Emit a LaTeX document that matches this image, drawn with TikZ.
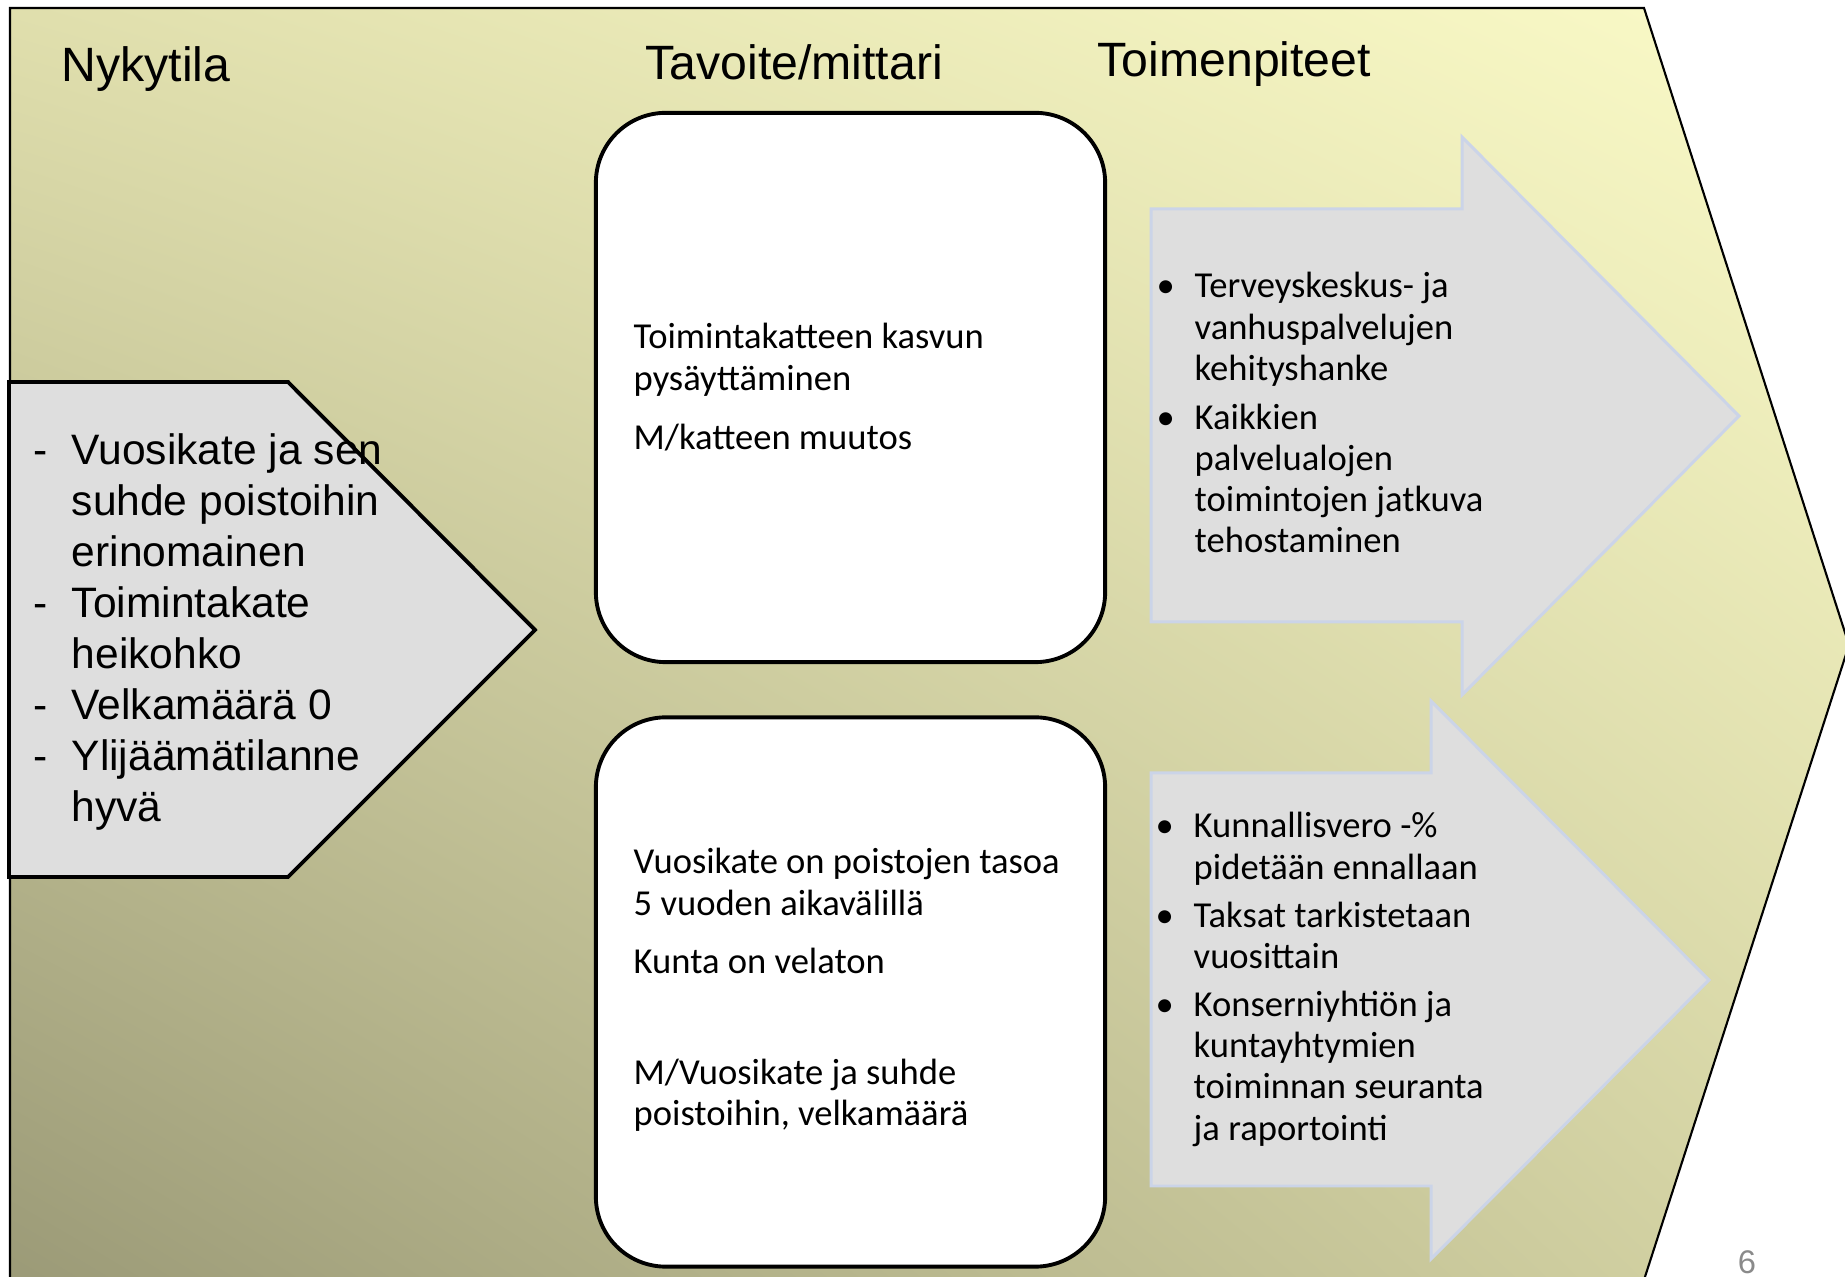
\documentclass[tikz,border=0pt]{standalone}
\usepackage{fontspec}
\setmainfont{Liberation Sans}
\newfontfamily\calibri{Carlito}
\usepackage{tikz}
\usetikzlibrary{positioning, calc, shadings}
\usepackage{color}

\definecolor{bgUL}{HTML}{E0DFAD}
\definecolor{bgUR}{HTML}{FBFBC8}
\definecolor{bgLL}{HTML}{9B9A77}
\definecolor{bgLR}{HTML}{D6D5A5}
\definecolor{arrowgray}{HTML}{DEDEDE}
\definecolor{arrowedge}{HTML}{CBD4E8}
\definecolor{pagegray}{HTML}{8A8A8A}

\tikzset{
  heading/.style={anchor=base west, inner sep=0pt, font=\fontsize{13.7}{16}\selectfont},
  statetext/.style={anchor=base west, inner sep=0pt, font=\fontsize{12.1}{14.5}\selectfont},
  bodytext/.style={anchor=base west, inner sep=0pt, font=\calibri\fontsize{10.4}{11.7}\selectfont},
  goalbox/.style={draw=black, line width=1.1pt, fill=white, rounded corners=0.7cm,
    minimum width=5.09cm, minimum height=5.49cm},
  statearrow/.style={draw=black, line width=1.1pt, fill=arrowgray},
  stepsarrow/.style={draw=arrowedge, line width=0.85pt, fill=arrowgray}
}

\begin{document}
\begin{tikzpicture}[x=0.01cm, y=-0.01cm]
    \useasboundingbox (0,0) rectangle (1845,1277);
    \clip (0,0) rectangle (1845,1277);

    % background chevron
    \shade[upper left=bgUL, upper right=bgUR, lower left=bgLL, lower right=bgLR]
      (10,8) -- (1644,8) -- (1849,645) -- (1643,1283) -- (10,1283) -- cycle;
    \draw[line width=0.6pt] (10,1283) -- (10,8) -- (1644,8) -- (1849,645) -- (1643,1283);

    \node [heading] (nyky) at (61,82) {Nykytila};
    \node [heading] (tavoite) at (645,80) {Tavoite/mittari};
    \node [heading] (toimet) at (1097,77) {Toimenpiteet};

    % nykytila
    \draw [statearrow] (9,382) -- (288,382) -- (535,630) -- (288,877) -- (9,877) -- cycle;
    \node [statetext] (tila) at (33,465) {\begin{tabular}[t]{@{}p{0.38cm}@{}l@{}}
      - & Vuosikate ja sen\\
        & suhde poistoihin\\
        & erinomainen\\
      - & Toimintakate\\
        & heikohko\\
      - & Velkamäärä 0\\
      - & Ylijäämätilanne\\
        & hyvä
    \end{tabular}};

    % tavoitteet
    \node [goalbox] (goalTop) at (850.5,387.5) {};
    \node [goalbox] (goalBottom) at (850.5,992) {};
    \node [bodytext] (mittari1) at (633,349) {\begin{tabular}[t]{@{}l@{}}
      Toimintakatteen kasvun\\
      pysäyttäminen\\[0.18cm]
      M/katteen muutos
    \end{tabular}};
    \node [bodytext] (mittari2) at (633,874) {\begin{tabular}[t]{@{}l@{}}
      Vuosikate on poistojen tasoa\\
      5 vuoden aikavälillä\\[0.17cm]
      Kunta on velaton\\[0.7cm]
      M/Vuosikate ja suhde\\
      poistoihin, velkamäärä
    \end{tabular}};

    % toimenpiteet
    \draw [stepsarrow] (1151,209) -- (1462,209) -- (1462,137) -- (1739,416)
      -- (1462,695) -- (1462,622) -- (1151,622) -- cycle;
    \draw [stepsarrow] (1151,773) -- (1431,773) -- (1431,701) -- (1709,980)
      -- (1431,1259) -- (1431,1186) -- (1151,1186) -- cycle;
    \node [bodytext] (toimet1) at (1156,298) {\begin{tabular}[t]{@{}p{0.38cm}@{}l@{}}
      \textbullet & Terveyskeskus- ja\\
                  & vanhuspalvelujen\\
                  & kehityshanke\\[0.08cm]
      \textbullet & Kaikkien\\
                  & palvelualojen\\
                  & toimintojen jatkuva\\
                  & tehostaminen
    \end{tabular}};
    \node [bodytext] (toimet2) at (1155,838) {\begin{tabular}[t]{@{}p{0.38cm}@{}l@{}}
      \textbullet & Kunnallisvero -\%\\
                  & pidetään ennallaan\\[0.07cm]
      \textbullet & Taksat tarkistetaan\\
                  & vuosittain\\[0.07cm]
      \textbullet & Konserniyhtiön ja\\
                  & kuntayhtymien\\
                  & toiminnan seuranta\\
                  & ja raportointi
    \end{tabular}};

    \node [font=\fontsize{9.3}{11}\selectfont, text=pagegray, inner sep=0pt] (sivu) at (1747,1262) {6};
\end{tikzpicture}
\end{document}
